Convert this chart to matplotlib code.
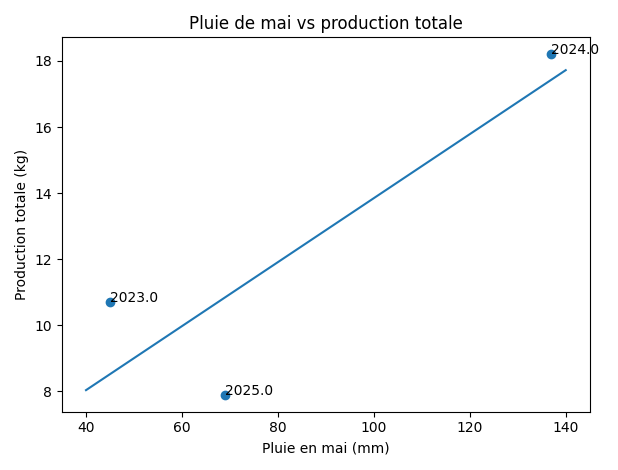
import numpy as np
import matplotlib
matplotlib.use("Agg")
import matplotlib.pyplot as plt

years = [2023.0, 2024.0, 2025.0]
pluie = [45, 137, 69]
production = [10.7, 18.2, 7.9]

fig, ax = plt.subplots(figsize=(6.18, 4.70), dpi=100)
ax.scatter(pluie, production)
for x, y, yr in zip(pluie, production, years):
    ax.annotate(str(yr), (x, y))
slope, intercept = np.polyfit(pluie, production, 1)
xs = np.linspace(40, 140, 100)
ax.plot(xs, slope * xs + intercept)
ax.set_title("Pluie de mai vs production totale")
ax.set_xlabel("Pluie en mai (mm)")
ax.set_ylabel("Production totale (kg)")
fig.tight_layout()
fig.savefig("out.png")
